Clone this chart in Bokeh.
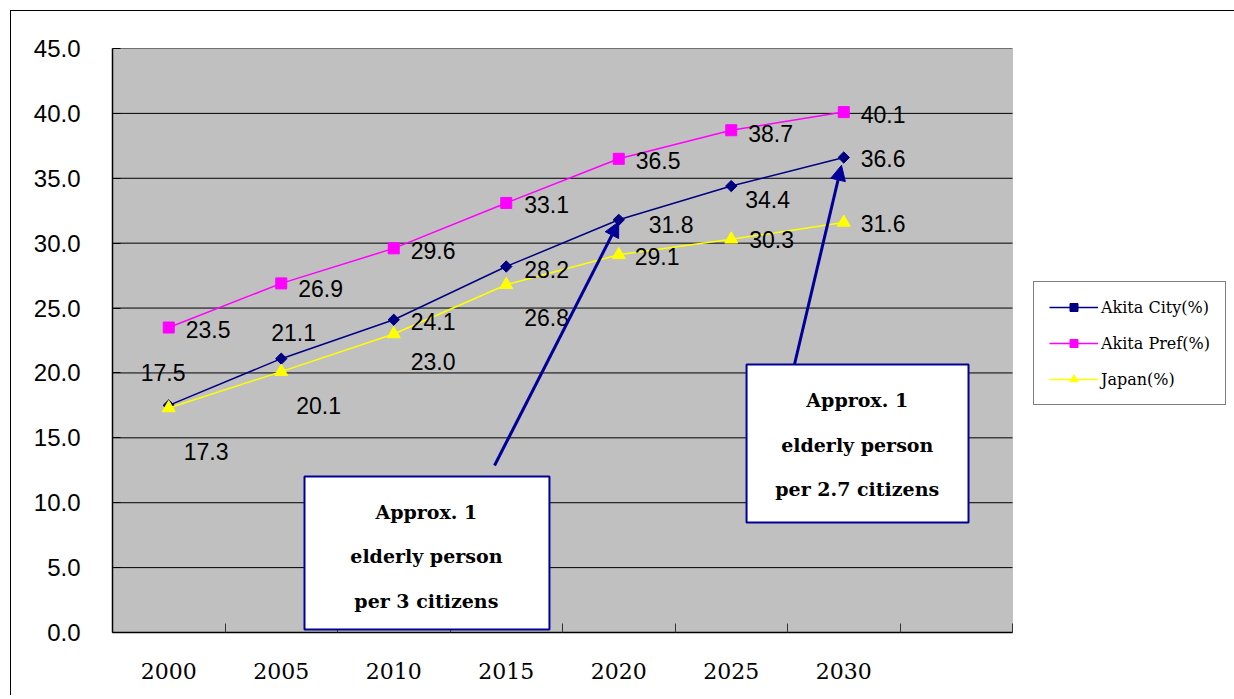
import numpy as np
from bokeh.plotting import figure
from bokeh.models import (ColumnDataSource, FixedTicker, NumeralTickFormatter, Legend,
                          LegendItem, Arrow, NormalHead, BoxAnnotation, Label, Range1d)
from bokeh.core.properties import value
from bokeh.embed import file_html
from bokeh.resources import INLINE

# ---------------- data ----------------
years = ["2000", "2005", "2010", "2015", "2020", "2025", "2030"]
akita_city = [17.5, 21.1, 24.1, 28.2, 31.8, 34.4, 36.6]
akita_pref = [23.5, 26.9, 29.6, 33.1, 36.5, 38.7, 40.1]
japan = [17.3, 20.1, 23.0, 26.8, 29.1, 30.3, 31.6]
series_names = ["Akita City(%)", "Akita Pref(%)", "Japan(%)"]
y_ticks = [0, 5, 10, 15, 20, 25, 30, 35, 40, 45]
box1_lines = ["Approx. 1", "elderly person", "per 3 citizens"]
box2_lines = ["Approx. 1", "elderly person", "per 2.7 citizens"]

# ---------------- label offsets (px, style) ----------------
city_dx = [-28, -10, 17, 18, 30, 14, 17]
city_dy = [-33, -26, 2, 3, 5, 13, 1]
pref_dx = [17, 17, 17, 18, 17, 17, 17]
pref_dy = [2, 5, 2, 2, 2, 3, 2]
japan_dx = [15, 15, 17, 18, 16, 18, 17]
japan_dy = [44, 34, 27, 33, 2, 0, 1]

xs = list(range(len(years)))
NAVY = "#000080"
MAG = "#FF00FF"
YEL = "#FFFF00"
BOXBLUE = "#000099"

OFF = 10  # figure placed at page (10,10) where the chart-area border is
W, H = 1224, 685
FR_L, FR_T, FR_B = 111 - OFF, 47 - OFF, 631 - OFF
PX_PER_SLOT = 112.5
X0, X1 = -0.5, 7.5           # extent of the grey plot area (8 slots)
x_end = X0 + (W - FR_L) / PX_PER_SLOT   # frame widened to host the legend

p = figure(width=W, height=H, x_range=Range1d(X0, x_end), y_range=Range1d(0, 45),
           output_backend="svg", toolbar_location=None,
           min_border_left=FR_L, min_border_top=FR_T,
           min_border_right=0, min_border_bottom=H - FR_B,
           background_fill_color="white", border_fill_color="white")
p.margin = (OFF, 0, 0, OFF)
p.styles = {"border-left": "1px solid black", "border-top": "1px solid black"}
p.outline_line_color = None

# grey plot area
p.add_layout(BoxAnnotation(left=X0, right=X1, bottom=0, top=45, fill_color="#C0C0C0",
                           fill_alpha=1, line_color="#808080", line_width=1, level="underlay"))

# x axis
p.xaxis.ticker = FixedTicker(ticks=xs, minor_ticks=[i + 0.5 for i in range(-1, 8)])
p.xaxis.bounds = (X0, X1)
p.xaxis.major_label_overrides = {i: y for i, y in enumerate(years)}
p.xaxis.major_tick_line_color = None
p.xaxis.minor_tick_in = 9
p.xaxis.minor_tick_out = 0
p.xaxis.minor_tick_line_color = "#333333"
p.xaxis.axis_line_color = "black"
p.xaxis.axis_line_width = 1.5
p.xaxis.major_label_text_font = "DejaVu Serif"
p.xaxis.major_label_text_font_size = "22px"
p.xaxis.major_label_text_color = "black"
p.xaxis.major_label_standoff = 24
p.xgrid.visible = False

# y axis
p.yaxis.ticker = FixedTicker(ticks=y_ticks)
p.yaxis.formatter = NumeralTickFormatter(format="0.0")
p.yaxis.major_tick_in = 8
p.yaxis.major_tick_out = 0
p.yaxis.major_tick_line_color = "black"
p.yaxis.minor_tick_line_color = None
p.yaxis.axis_line_color = "black"
p.yaxis.axis_line_width = 1.5
p.yaxis.major_label_text_font = "Liberation Sans"
p.yaxis.major_label_text_font_size = "24px"
p.yaxis.major_label_text_color = "black"
p.yaxis.major_label_standoff = 32
p.ygrid.visible = False

# horizontal gridlines limited to the grey area
p.segment(x0=X0, x1=X1, y0=y_ticks, y1=y_ticks, line_color="black", line_width=1)

src = ColumnDataSource(dict(x=xs, city=akita_city, pref=akita_pref, japan=japan))

l_city = p.line('x', 'city', source=src, line_color=NAVY, line_width=1.5)
m_city = p.scatter('x', 'city', source=src, marker="square", angle=np.pi / 4, size=8,
                   fill_color=NAVY, line_color=NAVY)
l_pref = p.line('x', 'pref', source=src, line_color=MAG, line_width=1.5)
m_pref = p.scatter('x', 'pref', source=src, marker="square", size=11,
                   fill_color=MAG, line_color=MAG)
l_jp = p.line('x', 'japan', source=src, line_color=YEL, line_width=1.5)
m_jp = p.scatter('x', 'japan', source=src, marker="triangle", size=13,
                 fill_color=YEL, line_color=YEL)

# data labels
def add_labels(vals, dx, dy):
    s = ColumnDataSource(dict(x=xs, y=vals, t=[f"{v:.1f}" for v in vals], dx=dx, dy=dy))
    p.text('x', 'y', text='t', x_offset='dx', y_offset='dy', source=s,
           text_font=value("Liberation Sans"), text_font_size="23px",
           text_color="black", text_align="left", text_baseline="middle")

add_labels(akita_city, city_dx, city_dy)
add_labels(akita_pref, pref_dx, pref_dy)
add_labels(japan, japan_dx, japan_dy)

# arrows
p.add_layout(Arrow(end=NormalHead(size=15, fill_color=BOXBLUE, line_color=BOXBLUE),
                   x_start=2.896, y_start=12.87, x_end=xs[4], y_end=akita_city[4] - 0.15,
                   line_color=BOXBLUE, line_width=3))
p.add_layout(Arrow(end=NormalHead(size=15, fill_color=BOXBLUE, line_color=BOXBLUE),
                   x_start=5.562, y_start=20.65, x_end=xs[6] - 0.02, y_end=akita_city[6] - 0.6,
                   line_color=BOXBLUE, line_width=3))

# text boxes
for (l, r, t, b, cx, ys, lines) in [
        (1.2067, 3.384, 12.02, 0.23, 2.29, [9.32, 5.86, 2.39], box1_lines),
        (5.136, 7.109, 20.65, 8.47, 6.12, [17.95, 14.48, 11.09], box2_lines)]:
    p.add_layout(BoxAnnotation(left=l, right=r, top=t, bottom=b, fill_color="white",
                               fill_alpha=1, line_color=BOXBLUE, line_width=2, line_alpha=1))
    for yy, txt in zip(ys, lines):
        p.add_layout(Label(x=cx, y=yy, text=txt, text_align="center", text_baseline="middle",
                           text_font="DejaVu Serif", text_font_style="bold",
                           text_font_size="19px", text_color="black"))

# legend (inside the widened frame, right of the grey area)
legend = Legend(items=[LegendItem(label=series_names[0], renderers=[l_city, m_city]),
                       LegendItem(label=series_names[1], renderers=[l_pref, m_pref]),
                       LegendItem(label=series_names[2], renderers=[l_jp, m_jp])],
                location=(921, 227))
legend.border_line_color = "black"
legend.border_line_width = 1
legend.background_fill_color = "white"
legend.background_fill_alpha = 1
legend.label_text_font = "DejaVu Serif"
legend.label_text_font_size = "16px"
legend.label_text_color = "black"
legend.glyph_width = 49
legend.glyph_height = 20
legend.label_height = 20
legend.label_standoff = 3
legend.spacing = 16
legend.padding = 15
legend.margin = 0
p.add_layout(legend)

open("out.html", "w").write(file_html(p, INLINE))
